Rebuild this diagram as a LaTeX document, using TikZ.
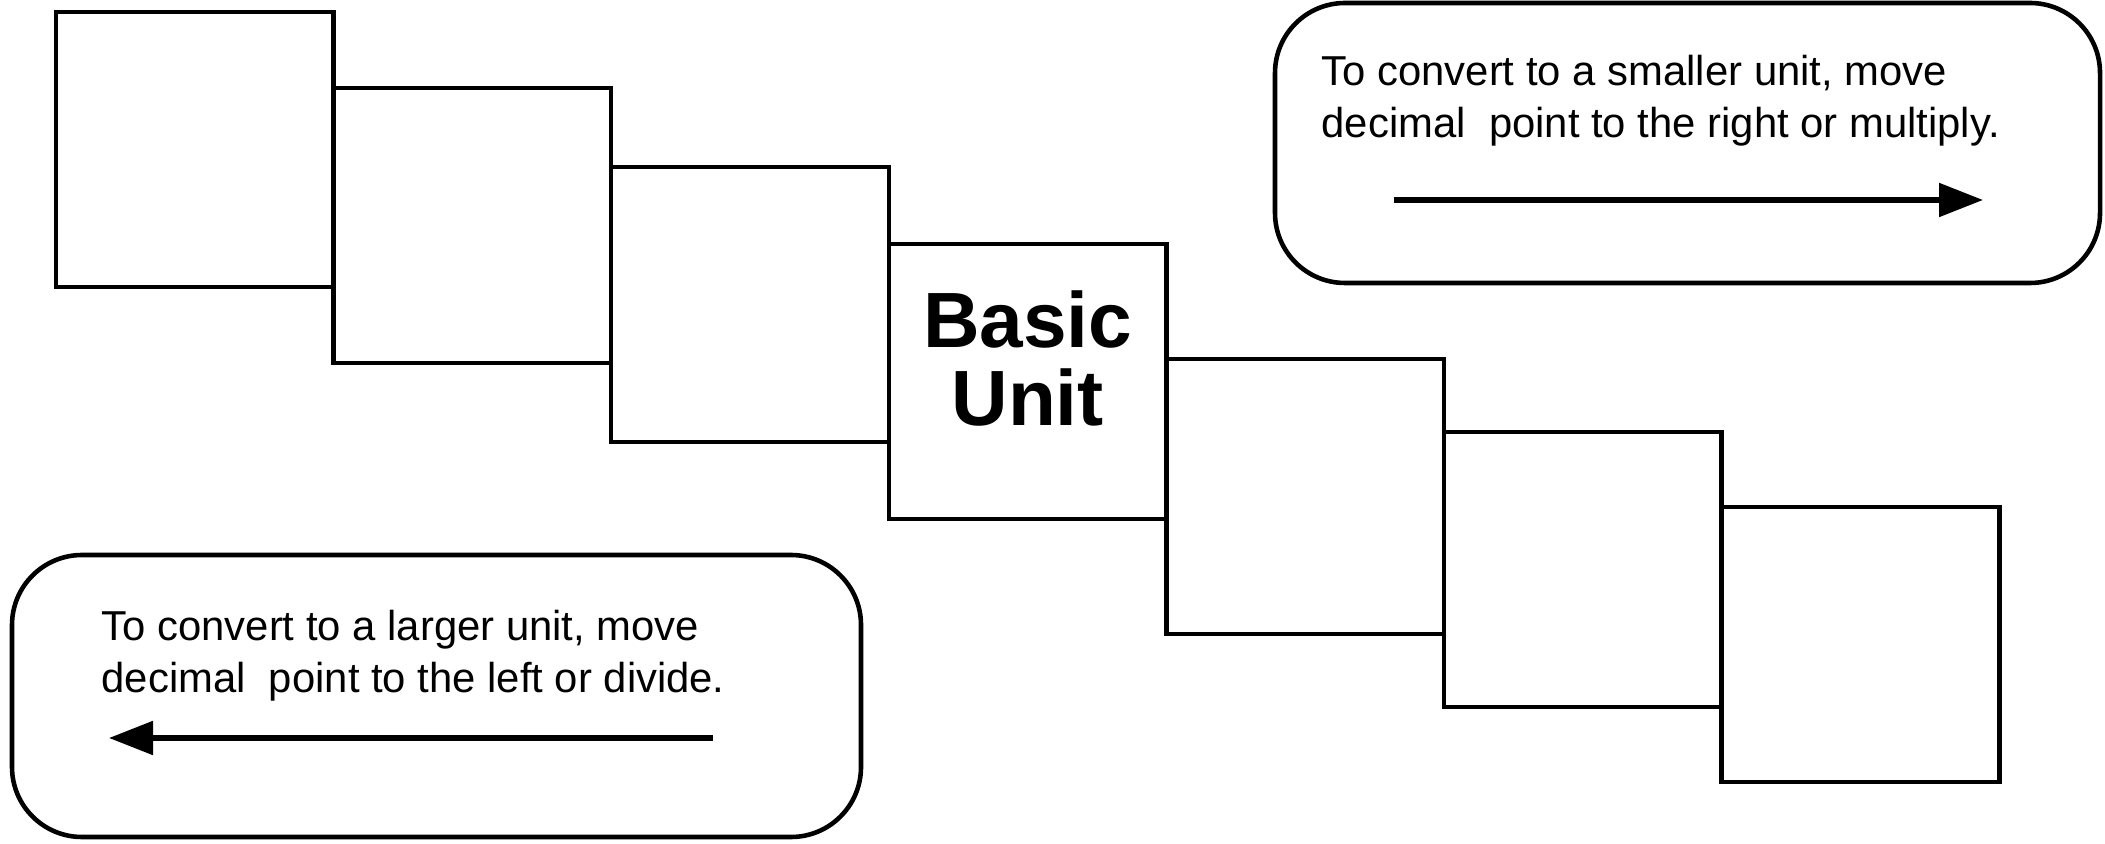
\documentclass[tikz,border=0pt]{standalone}
\usepackage{fontspec}
\setmainfont{Liberation Sans}
\usetikzlibrary{arrows.meta,positioning}
\begin{document}
\begin{tikzpicture}[
    unitbox/.style={draw, line width=1.3pt, minimum width=2.776cm, minimum height=2.75cm, inner sep=0pt},
    notebox/.style={draw, line width=1.3pt, rounded corners=0.7cm, inner sep=0pt},
    note/.style={align=left, inner sep=0pt, anchor=north west, font=\fontsize{11.9}{14.7}\selectfont},
    arrow/.style={-{Triangle[length=4.4mm, width=3.3mm]}, line width=1.5pt}
]
\useasboundingbox (0,0) rectangle (21.05,-8.44);

% Unit steps
\node[unitbox] (u1) at (1.948,-1.495) {};
\node[unitbox] (u2) at (4.724,-2.255) {};
\node[unitbox] (u3) at (7.500,-3.045) {};
\node[unitbox] (u4) at (10.276,-3.815) {};
\node[unitbox] (u5) at (13.052,-4.965) {};
\node[unitbox] (u6) at (15.828,-5.695) {};
\node[unitbox] (u7) at (18.604,-6.445) {};
\node[font=\fontsize{22.3}{22.1}\selectfont\bfseries, align=center] (basic) at (10.276,-3.585) {Basic\\Unit};

% Smaller unit
\node[notebox, minimum width=8.25cm, minimum height=2.8cm] (smaller) at (16.875,-1.43) {};
\node[note] (smaller_txt) at (13.21,-0.545) {To convert to a smaller unit, move\\decimal\ \ point to the right or multiply.};
\coordinate (smaller_from) at (13.94,-2.00);
\coordinate (smaller_to) at (19.83,-2.00);
\draw[arrow] (smaller_from) -- (smaller_to);

% Larger unit
\node[notebox, minimum width=8.49cm, minimum height=2.82cm] (larger) at (4.365,-6.96) {};
\node[note] (larger_txt) at (1.01,-6.094) {To convert to a larger unit, move\\decimal\ \ point to the left or divide.};
\coordinate (larger_from) at (7.13,-7.38);
\coordinate (larger_to) at (1.09,-7.38);
\draw[arrow] (larger_from) -- (larger_to);
\end{tikzpicture}
\end{document}
